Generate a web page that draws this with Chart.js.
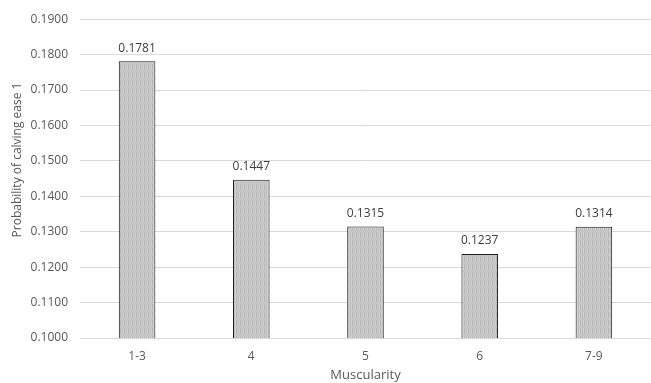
<!DOCTYPE html>
<html>
<head>
<meta charset="utf-8">
<script src="https://cdn.jsdelivr.net/npm/chart.js@4"></script>
<style>
  html, body { margin: 0; padding: 0; overflow: hidden; background: #fff; }
  #wrap { width: 651px; height: 383px; }
</style>
</head>
<body>
<div id="wrap"><canvas id="chart"></canvas></div>
<script>
const categories = ["1-3", "4", "5", "6", "7-9"];
const probabilities = [0.1781, 0.1447, 0.1315, 0.1237, 0.1314];
const yMin = 0.1, yMax = 0.19, yStep = 0.01;
const yTitle = "Probability of calving ease 1";

// grey striped fill like the original
function stripes() {
  const c = document.createElement("canvas");
  c.width = 4; c.height = 8;
  const g = c.getContext("2d");
  const cols = ["#b7b7b7", "#cbcbcb", "#c0c0c0", "#d0d0d0"];
  cols.forEach((col, i) => { g.fillStyle = col; g.fillRect(i, 0, 1, 8); });
  g.fillStyle = "#c6c6c6";
  g.fillRect(0, 6, 4, 2);
  return g.createPattern(c, "repeat");
}

// value labels above each bar + y axis title (placed like the original)
const extraText = {
  id: "extraText",
  afterDatasetsDraw(chart) {
    const ctx = chart.ctx;
    const meta = chart.getDatasetMeta(0);
    ctx.save();
    ctx.font = "12px 'Open Sans', sans-serif";
    ctx.fillStyle = "#404040";
    ctx.textAlign = "center";
    ctx.textBaseline = "bottom";
    meta.data.forEach((bar, i) => {
      ctx.fillText(probabilities[i].toFixed(4), bar.x, bar.y - 7);
    });
    ctx.translate(18, 160);
    ctx.rotate(-Math.PI / 2);
    ctx.textBaseline = "middle";
    ctx.fillStyle = "#595959";
    ctx.fillText(yTitle, 0, 0);
    ctx.restore();
  }
};

Chart.defaults.font.family = "'Open Sans', sans-serif";
Chart.defaults.color = "#595959";

new Chart(document.getElementById("chart"), {
  type: "bar",
  data: {
    labels: categories,
    datasets: [{
      data: probabilities,
      backgroundColor: stripes(),
      borderColor: "#1a1a1a",
      borderWidth: 1,
      borderSkipped: false,
      categoryPercentage: 1,
      barPercentage: 0.32
    }]
  },
  options: {
    responsive: true,
    maintainAspectRatio: false,
    animation: false,
    layout: { padding: { top: 12, right: 0, left: 0, bottom: 0 } },
    plugins: { legend: { display: false }, tooltip: { enabled: false } },
    scales: {
      x: {
        grid: { display: false, drawTicks: false },
        border: { color: "#d9d9d9" },
        ticks: { font: { size: 12 }, padding: 11 },
        title: { display: true, text: "Muscularity", font: { size: 13 }, padding: { top: 0, bottom: 0 } },
        afterFit(scale) { scale.height = 45; }
      },
      y: {
        min: yMin,
        max: yMax,
        border: { display: false },
        grid: { color: "#d9d9d9", drawTicks: false },
        ticks: {
          stepSize: yStep,
          font: { size: 12 },
          padding: 12,
          callback: v => v.toFixed(4)
        },
        afterFit(scale) { scale.width = 80; }
      }
    }
  },
  plugins: [extraText]
});
</script>
</body>
</html>
